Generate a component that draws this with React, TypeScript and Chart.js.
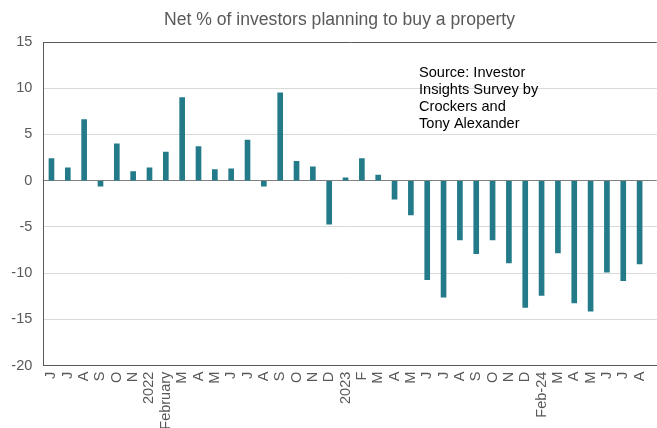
import React, { useEffect, useRef } from "react";
import { Chart, registerables } from "chart.js";

Chart.register(...registerables);

const TITLE = "Net % of investors planning to buy a property";
const SOURCE_LINES = ["Source: Investor", "Insights Survey by", "Crockers and", "Tony Alexander"];

const categories = [
  "J", "J", "A", "S", "O", "N", "2022", "February", "M", "A", "M", "J", "J", "A", "S", "O", "N", "D",
  "2023", "F", "M", "A", "M", "J", "J", "A", "S", "O", "N", "D", "Feb-24", "M", "A", "M", "J", "J", "A",
];

const netPercent = [
  2.4, 1.4, 6.6, -0.6, 4.0, 1.0, 1.4, 3.1, 9.0, 3.7, 1.2, 1.3, 4.4, -0.6, 9.5, 2.1, 1.5, -4.7,
  0.3, 2.4, 0.6, -2.0, -3.7, -10.7, -12.6, -6.4, -7.9, -6.4, -8.9, -13.7, -12.4, -7.8, -13.2, -14.1,
  -9.9, -10.8, -9.0,
];

const yTicks = [-20, -15, -10, -5, 0, 5, 10, 15];

const FONT = "'Liberation Sans', Arial, sans-serif";

const textPlugin = {
  id: "textOverlay",
  afterDraw(chart: any) {
    const ctx = chart.ctx;
    ctx.save();
    ctx.fillStyle = "#595959";
    ctx.font = `17.6px ${FONT}`;
    ctx.textAlign = "center";
    ctx.textBaseline = "alphabetic";
    ctx.fillText(TITLE, 339.5, 25);
    ctx.fillStyle = "#000000";
    ctx.font = `14.6px ${FONT}`;
    ctx.textAlign = "left";
    SOURCE_LINES.forEach((line, i) => {
      ctx.fillText(line, 419, 77.3 + i * 16.8);
    });
    ctx.restore();
  },
};

export default function App() {
  const canvasRef = useRef<HTMLCanvasElement | null>(null);

  useEffect(() => {
    if (!canvasRef.current) return;
    const chart = new Chart(canvasRef.current, {
      type: "bar",
      data: {
        datasets: [
          {
            data: netPercent.map((v, i) => ({ x: i, y: v })),
            backgroundColor: "#237b8a",
            barThickness: 5,
          },
        ],
      },
      options: {
        animation: false,
        responsive: true,
        maintainAspectRatio: false,
        layout: { padding: { top: 42, left: 0, right: 0, bottom: 0 } },
        plugins: {
          legend: { display: false },
          tooltip: { enabled: false },
          title: { display: false },
        },
        scales: {
          x: {
            type: "linear",
            offset: false,
            min: -0.5,
            max: 37.05,
            grid: { display: false, drawTicks: true, tickLength: 6, offset: false },
            border: { display: true, color: "#595959", width: 1 },
            afterBuildTicks: (scale: any) => {
              scale.ticks = categories.map((_, i) => ({ value: i }));
            },
            afterFit: (scale: any) => {
              scale.height = 62.3;
            },
            ticks: {
              autoSkip: false,
              minRotation: 90,
              maxRotation: 90,
              padding: 0,
              color: "#595959",
              font: { family: FONT, size: 14.5 },
              callback: (value: any) => categories[Math.round(Number(value))] ?? "",
            },
          },
          y: {
            min: -20,
            max: 15,
            afterBuildTicks: (scale: any) => {
              scale.ticks = yTicks.map((v) => ({ value: v }));
            },
            afterFit: (scale: any) => {
              scale.width = 43.3;
            },
            grid: {
              drawTicks: false,
              color: (ctx: any) => {
                if (!ctx.tick) return "#d9d9d9";
                if (ctx.tick.value === 15) return "#595959";
                if (ctx.tick.value === 0) return "#808080";
                return "#d9d9d9";
              },
              lineWidth: 1,
            },
            border: { display: true, color: "#595959", width: 1 },
            ticks: {
              padding: 11,
              color: "#595959",
              font: { family: FONT, size: 14.5 },
            },
          },
        },
      },
      plugins: [textPlugin],
    });
    return () => chart.destroy();
  }, []);

  return (
    <div style={{ position: "absolute", left: 0, top: 0, width: 657, height: 428, background: "#ffffff" }}>
      <canvas ref={canvasRef} />
    </div>
  );
}
